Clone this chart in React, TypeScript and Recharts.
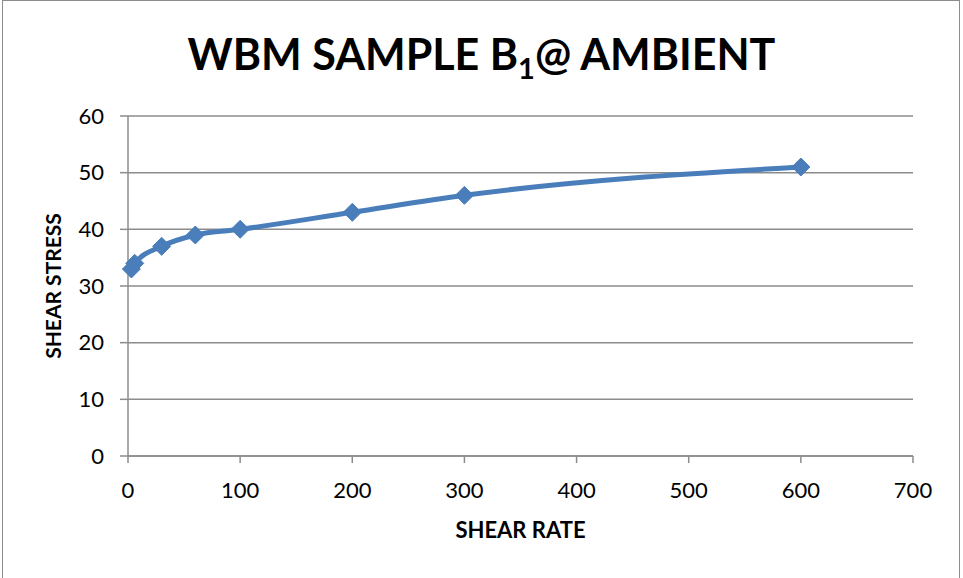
import { LineChart, Line, XAxis, YAxis, CartesianGrid, Label } from 'recharts';

const shearRate = [3, 6, 30, 60, 100, 200, 300, 600];
const shearStress = [33, 34, 37, 39, 40, 43, 46, 51];
const xTicks = [0, 100, 200, 300, 400, 500, 600, 700];
const yTicks = [0, 10, 20, 30, 40, 50, 60];

const data = shearRate.map((x, i) => ({ x, y: shearStress[i] }));

const FONT = 'Lato, "Open Sans", sans-serif';
const LINE = '#4a7ebb';
const GRID = '#8c8c8c';

const Diamond = (props: any) => {
  const { cx, cy } = props;
  if (cx == null || cy == null) return null;
  const r = 9;
  return (
    <path
      d={`M${cx},${cy - r} L${cx + r},${cy} L${cx},${cy + r} L${cx - r},${cy} Z`}
      fill={LINE}
      stroke={LINE}
      strokeWidth={1}
    />
  );
};

export default function App() {
  return (
    <div
      style={{
        position: 'absolute',
        left: 0,
        top: 0,
        width: 963,
        height: 578,
        background: '#fff',
        fontFamily: FONT,
      }}
    >
      {/* chart frame */}
      <div
        style={{
          position: 'absolute',
          left: 2,
          top: 0,
          width: 958,
          height: 600,
          border: `1px solid ${GRID}`,
          boxSizing: 'border-box',
        }}
      />
      <div
        style={{
          position: 'absolute',
          top: 27,
          left: 0,
          width: 963,
          textAlign: 'center',
          fontSize: 43,
          fontWeight: 700,
          color: '#000',
          lineHeight: '54px',
        }}
      >
        WBM SAMPLE B<sub style={{ fontSize: 29, verticalAlign: -9 }}>1</sub>@ AMBIENT
      </div>
      <LineChart
        width={963}
        height={578}
        data={data}
        margin={{ top: 116, right: 50, bottom: 42, left: 0 }}
        style={{ position: 'absolute', left: 0, top: 0 }}
      >
        <CartesianGrid vertical={false} stroke={GRID} strokeWidth={1.5} />
        <XAxis
          type="number"
          dataKey="x"
          domain={[0, 700]}
          ticks={xTicks}
          interval={0}
          height={80}
          stroke={GRID}
          strokeWidth={1.5}
          tickSize={7}
          tickMargin={19}
          tick={{ fill: '#000', fontSize: 22, fontFamily: FONT }}
        >
          <Label
            value="SHEAR RATE"
            position="insideBottom"
            offset={-2}
            style={{ fill: '#000', fontSize: 22, fontWeight: 700, fontFamily: FONT }}
          />
        </XAxis>
        <YAxis
          type="number"
          domain={[0, 60]}
          ticks={yTicks}
          interval={0}
          width={128}
          stroke={GRID}
          strokeWidth={1.5}
          tickSize={8}
          tickMargin={16}
          tick={{ fill: '#000', fontSize: 22, fontFamily: FONT }}
        >
          <Label
            value="SHEAR STRESS"
            angle={-90}
            position="insideLeft"
            offset={54}
            style={{ fill: '#000', fontSize: 21, fontWeight: 700, fontFamily: FONT, textAnchor: 'middle' }}
          />
        </YAxis>
        <Line
          type="monotone"
          dataKey="y"
          stroke={LINE}
          strokeWidth={5}
          dot={<Diamond />}
          activeDot={false}
          isAnimationActive={false}
        />
      </LineChart>
    </div>
  );
}
